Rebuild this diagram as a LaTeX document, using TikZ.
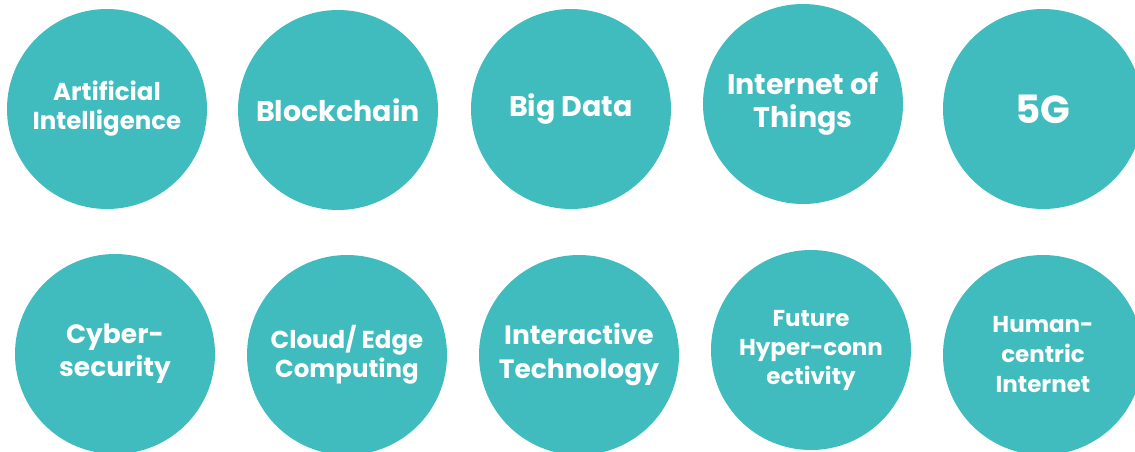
\documentclass[tikz,border=0pt]{standalone}
\usepackage{fontspec}
\setmainfont{Poppins}
\definecolor{teal1}{RGB}{64,188,190}
\begin{document}
\begin{tikzpicture}[x=1pt,y=-1pt,
  disc/.style={circle,fill=teal1,minimum size=200pt,inner sep=0pt,text=white,align=center,font=\bfseries}]
\useasboundingbox (0,0) rectangle (1135,452);
\node[disc,font=\bfseries\fontsize{24.5}{29}\selectfont] (ai) at (107,109) {Artificial\\Intelligence};
\node[disc,font=\bfseries\fontsize{28.5}{33}\selectfont] (bc) at (338,110) {Blockchain};
\node[disc,font=\bfseries\fontsize{28.5}{33}\selectfont] (bd) at (571,109) {Big Data};
\node[disc,font=\bfseries\fontsize{28.5}{33}\selectfont] (iot) at (803,104) {Internet of\\Things};
\node[disc,font=\bfseries\fontsize{39}{44}\selectfont] (fg) at (1043,109) {5G};
\node[disc,font=\bfseries\fontsize{26.5}{33}\selectfont] (cs) at (115,354) {Cyber-\\security};
\node[disc,font=\bfseries\fontsize{24.5}{29}\selectfont] (ce) at (347,355) {Cloud/ Edge\\Computing};
\node[disc,font=\bfseries\fontsize{26.5}{34}\selectfont] (it) at (579,355) {Interactive\\Technology};
\node[disc,font=\bfseries\fontsize{23}{29}\selectfont] (fh) at (811,350) {Future\\Hyper-conn\\ectivity};
\node[disc,font=\bfseries\fontsize{23}{30}\selectfont] (hc) at (1043,355) {Human-\\centric\\Internet};
\end{tikzpicture}
\end{document}
